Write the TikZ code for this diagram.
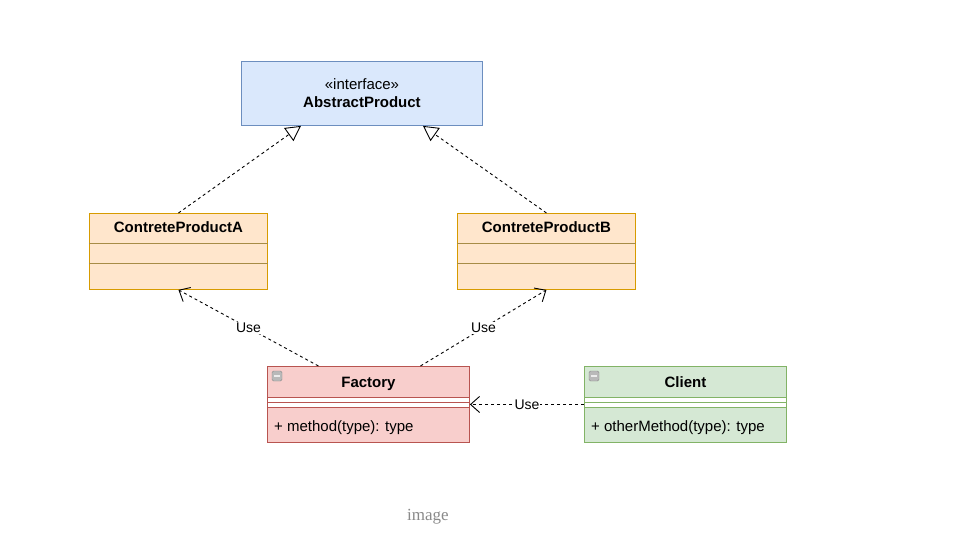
\documentclass[tikz,border=0pt]{standalone}
\usepackage{fontspec}
\setmainfont{Liberation Sans}
\newfontfamily\capfont{Liberation Serif}
\usetikzlibrary{positioning,arrows.meta,calc}
\definecolor{ifill}{HTML}{DAE8FC}
\definecolor{iline}{HTML}{6C8EBF}
\definecolor{pfill}{HTML}{FFE6CC}
\definecolor{pline}{HTML}{D79B00}
\definecolor{ffill}{HTML}{F8CECC}
\definecolor{fline}{HTML}{B85450}
\definecolor{cfill}{HTML}{D5E8D4}
\definecolor{cline}{HTML}{82B366}
\definecolor{captxt}{HTML}{8A8A8A}
\tikzset{
  umlbox/.style={draw=#1line, fill=#1fill, line width=0.9pt, anchor=north west, inner sep=0pt,
                 minimum height=76pt},
  ctitle/.style={font=\fontsize{15}{17}\selectfont\bfseries, inner sep=0pt, anchor=base},
  cmember/.style={font=\fontsize{15}{17}\selectfont, inner sep=0pt, anchor=base west},
  sep/.style={draw=#1, line width=0.8pt},
  minbtn/.style={draw=gray!90, fill=gray!55, rounded corners=1.5pt, minimum size=10pt, inner sep=0pt},
  realize/.style={dash pattern=on 3pt off 3pt, line width=0.9pt,
                  -{Triangle[open, length=15pt, width=16pt, fill=white]}},
  uses/.style={dash pattern=on 3pt off 3pt, line width=0.9pt,
               -{Straight Barb[length=9pt, width=16pt, line width=0.9pt]}},
  ulabel/.style={font=\fontsize{14}{16}\selectfont, fill=white, inner sep=1pt},
}
\begin{document}
\begin{tikzpicture}[x=1pt, y=-1pt]
  \useasboundingbox[fill=white] (0,0) rectangle (979,537);
  % interface
  \node[umlbox=i, minimum width=241pt, minimum height=64pt] (ap) at (241,61) {};
  \node[font=\fontsize{15}{18}\selectfont, align=center, inner sep=0pt] (aptxt) at (ap.center)
        {«interface»\\\textbf{AbstractProduct}};
  % products
  \node[umlbox=p, minimum width=178pt] (pa) at (89,213) {};
  \node[ctitle] (patxt) at ([yshift=-19.5pt]pa.north) {ContreteProductA};
  \draw[sep=pline!45!gray] ([yshift=-30pt]pa.north west) -- ([yshift=-30pt]pa.north east);
  \draw[sep=pline!45!gray] ([yshift=-50pt]pa.north west) -- ([yshift=-50pt]pa.north east);
  \node[umlbox=p, minimum width=178pt] (pb) at (457,213) {};
  \node[ctitle] (pbtxt) at ([yshift=-19.5pt]pb.north) {ContreteProductB};
  \draw[sep=pline!45!gray] ([yshift=-30pt]pb.north west) -- ([yshift=-30pt]pb.north east);
  \draw[sep=pline!45!gray] ([yshift=-50pt]pb.north west) -- ([yshift=-50pt]pb.north east);
  % factory
  \node[umlbox=f, minimum width=202pt] (fac) at (267,366) {};
  \fill[white] ([yshift=-31pt]fac.north west) rectangle ([yshift=-41pt]fac.north east);
  \foreach \d in {31,36,41}
    \draw[sep=fline] ([yshift=-\d pt]fac.north west) -- ([yshift=-\d pt]fac.north east);
  \draw[fline, line width=0.9pt] (fac.north west) rectangle (fac.south east);
  \node[minbtn] (facmin) at ([shift={(10pt,-10pt)}]fac.north west) {};
  \draw[gray!15, line width=1.3pt] ([xshift=-3pt]facmin.center) -- ([xshift=3pt]facmin.center);
  \node[ctitle] (factxt) at ([yshift=-21.5pt]fac.north) {Factory};
  \node[cmember] (facm) at ([shift={(7pt,-65.5pt)}]fac.north west) {+ method(type): type};
  % client
  \node[umlbox=c, minimum width=202pt] (cl) at (584,366) {};
  \fill[white] ([yshift=-31pt]cl.north west) rectangle ([yshift=-41pt]cl.north east);
  \foreach \d in {31,36,41}
    \draw[sep=cline] ([yshift=-\d pt]cl.north west) -- ([yshift=-\d pt]cl.north east);
  \draw[cline, line width=0.9pt] (cl.north west) rectangle (cl.south east);
  \node[minbtn] (clmin) at ([shift={(10pt,-10pt)}]cl.north west) {};
  \draw[gray!15, line width=1.3pt] ([xshift=-3pt]clmin.center) -- ([xshift=3pt]clmin.center);
  \node[ctitle] (cltxt) at ([yshift=-21.5pt]cl.north) {Client};
  \node[cmember] (clm) at ([shift={(7pt,-65.5pt)}]cl.north west) {+ otherMethod(type): type};
  % connectors
  \draw[realize] (pa.north) -- ([xshift=-61pt]ap.south);
  \draw[realize] (pb.north) -- ([xshift=61pt]ap.south);
  \draw[uses] ([xshift=-50pt]fac.north) -- node[ulabel] {Use} (pa.south);
  \draw[uses] ([xshift=52pt]fac.north) -- node[ulabel] {Use} (pb.south);
  \draw[uses] (cl.west) -- node[ulabel] {Use} (fac.east);
  % caption
  \node[font=\capfont\fontsize{17}{20}\selectfont, text=captxt] (cap) at (428,517) {image};
\end{tikzpicture}
\end{document}
